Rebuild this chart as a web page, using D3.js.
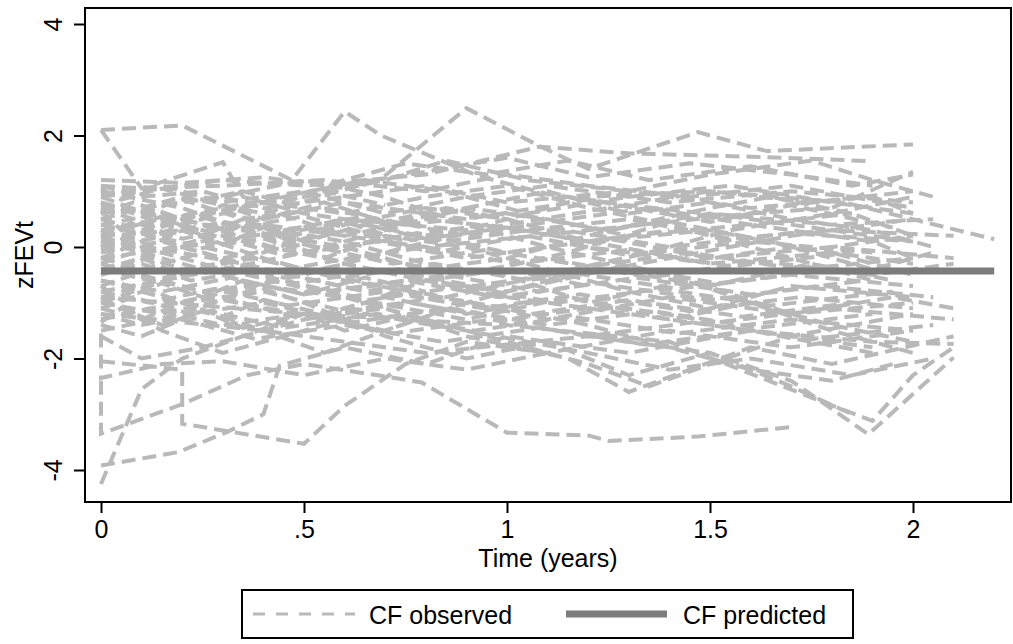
<!DOCTYPE html>
<html>
<head>
<meta charset="utf-8">
<script src="https://cdn.jsdelivr.net/npm/d3@7"></script>
<style>
  body { margin: 0; background: #fff; }
  text { font-family: "Liberation Sans", Arial, sans-serif; fill: #000; }
</style>
</head>
<body>
<svg id="chart" width="1013" height="644"></svg>
<script>
// observed zFEV trajectories, one array of [time, z] per subject
var observedSeries = [
  [[0,2.1],[0.2,2.18],[0.47,1.2],[0.6,2.43],[0.69,2.0],[0.93,1.27],[1.1,0.95],[1.3,0.75],[1.55,0.55],[1.8,0.3],[2.0,0.1]],
  [[0,2.1],[0.1,1.05],[0.3,1.52],[0.35,0.9],[0.5,0.6],[0.7,0.4],[0.9,0.7],[1.1,0.5],[1.3,0.2],[1.6,0.4],[1.9,0.1],[2.0,-0.2]],
  [[0,0.5],[0.2,0.9],[0.4,0.6],[0.69,1.22],[0.9,2.49],[1.08,1.81],[1.2,1.4],[1.47,2.06],[1.64,1.72],[2.0,1.84]],
  [[0,0.9],[0.3,1.2],[0.5,1.1],[0.8,1.3],[1.08,1.8],[1.3,1.68],[1.6,1.62],[1.9,1.54]],
  [[0,-0.2],[0.3,0.1],[0.6,0.5],[0.9,0.3],[1.2,0.9],[1.5,1.0],[1.83,0.8],[2.2,0.14]],
  [[0,0.2],[0.4,0.4],[0.8,0.0],[1.2,0.3],[1.6,0.6],[1.8,0.7],[2.0,1.35]],
  [[0,-4.25],[0.1,-2.55],[0.2,-2.0],[0.35,-1.6],[0.5,-1.2],[0.7,-1.5],[0.9,-1.0],[1.1,-1.3],[1.4,-0.9],[1.7,-1.2],[2.0,-1.0]],
  [[0,-3.92],[0.19,-3.68],[0.31,-3.32],[0.4,-3.0],[0.44,-2.13],[0.6,-1.8],[0.8,-2.1],[1.0,-1.6],[1.3,-1.9],[1.6,-1.5],[1.9,-1.7],[2.1,-1.74]],
  [[0,-2.4],[0,-3.35],[0.2,-2.82],[0.36,-2.3],[0.5,-2.1],[0.69,-2.31],[0.79,-2.43],[1.0,-3.33],[1.2,-3.38],[1.25,-3.48],[1.47,-3.4],[1.7,-3.23]],
  [[0,-2.05],[0.2,-2.2],[0.2,-3.17],[0.5,-3.53],[0.6,-2.85],[0.75,-2.1],[0.9,-1.7],[1.1,-1.9],[1.4,-1.5],[1.7,-1.8],[2.0,-1.5]],
  [[0,-1.2],[0.4,-1.5],[0.8,-1.9],[1.2,-1.6],[1.5,-1.9],[1.7,-2.4],[1.89,-3.36],[2.1,-1.98]],
  [[0,-0.9],[0.5,-1.2],[1.0,-1.4],[1.4,-1.7],[1.75,-2.7],[1.9,-3.12],[2.0,-2.3],[2.1,-1.8]],
  [[0,1.1],[0.1,0.9],[0.25,1.0],[0.4,0.7],[0.6,0.9],[0.8,1.1],[1.0,0.8],[1.3,1.0],[1.6,0.7],[1.9,0.9],[2.0,0.6]],
  [[0,0.95],[0.15,1.1],[0.3,0.8],[0.5,1.0],[0.7,0.6],[0.9,0.9],[1.1,1.1],[1.4,0.8],[1.7,1.0],[2.0,0.8]],
  [[0,0.8],[0.1,0.6],[0.2,0.85],[0.35,0.5],[0.55,0.7],[0.75,0.4],[1.0,0.6],[1.25,0.3],[1.5,0.6],[1.8,0.4],[2.05,0.5]],
  [[0,0.7],[0.12,0.4],[0.3,0.65],[0.45,0.3],[0.65,0.55],[0.9,0.2],[1.1,0.45],[1.35,0.7],[1.6,0.4],[1.85,0.6]],
  [[0,0.6],[0.08,0.8],[0.2,0.5],[0.38,0.75],[0.6,0.2],[0.8,0.5],[1.05,0.3],[1.3,0.5],[1.55,0.15],[1.8,0.3],[2.1,0.2]],
  [[0,0.5],[0.1,0.3],[0.22,0.6],[0.4,0.2],[0.62,0.45],[0.85,0.1],[1.1,0.35],[1.4,0.0],[1.7,0.25],[2.0,0.1]],
  [[0,0.4],[0.15,0.6],[0.3,0.3],[0.5,0.55],[0.7,0.15],[0.95,0.4],[1.2,0.1],[1.5,0.3],[1.75,-0.05],[2.0,0.2]],
  [[0,0.3],[0.1,0.1],[0.25,0.4],[0.42,0.0],[0.6,0.3],[0.82,-0.1],[1.05,0.2],[1.3,-0.15],[1.6,0.1],[1.9,-0.1]],
  [[0,0.2],[0.08,0.45],[0.2,0.15],[0.35,0.35],[0.55,-0.05],[0.78,0.25],[1.0,-0.1],[1.25,0.15],[1.5,-0.2],[1.8,0.0],[2.1,-0.2]],
  [[0,0.1],[0.12,-0.1],[0.28,0.2],[0.45,-0.15],[0.68,0.1],[0.9,-0.2],[1.15,0.05],[1.45,-0.25],[1.7,0.0],[2.0,-0.3]],
  [[0,0.0],[0.1,0.25],[0.22,-0.05],[0.4,0.15],[0.58,-0.25],[0.8,0.0],[1.02,-0.3],[1.3,-0.05],[1.55,-0.35],[1.85,-0.1]],
  [[0,-0.1],[0.15,0.1],[0.3,-0.2],[0.5,0.05],[0.72,-0.3],[0.95,-0.05],[1.2,-0.35],[1.45,-0.1],[1.72,-0.4],[2.0,-0.2]],
  [[0,-0.2],[0.1,-0.4],[0.25,-0.1],[0.42,-0.45],[0.65,-0.15],[0.88,-0.5],[1.1,-0.2],[1.35,-0.55],[1.62,-0.25],[1.9,-0.5],[2.1,-0.3]],
  [[0,-0.3],[0.08,-0.1],[0.2,-0.4],[0.38,-0.2],[0.6,-0.55],[0.82,-0.3],[1.05,-0.6],[1.28,-0.35],[1.52,-0.65],[1.8,-0.4]],
  [[0,-0.4],[0.12,-0.6],[0.3,-0.35],[0.48,-0.65],[0.7,-0.4],[0.92,-0.7],[1.15,-0.45],[1.42,-0.75],[1.7,-0.5],[2.0,-0.7]],
  [[0,-0.5],[0.1,-0.3],[0.22,-0.6],[0.4,-0.4],[0.62,-0.75],[0.85,-0.5],[1.08,-0.8],[1.32,-0.55],[1.6,-0.85],[1.88,-0.6]],
  [[0,-0.6],[0.15,-0.8],[0.32,-0.55],[0.5,-0.85],[0.75,-0.6],[0.98,-0.9],[1.22,-0.65],[1.5,-0.95],[1.78,-0.7],[2.05,-0.9]],
  [[0,-0.7],[0.08,-0.5],[0.25,-0.8],[0.45,-0.6],[0.66,-0.95],[0.9,-0.7],[1.12,-1.0],[1.38,-0.75],[1.65,-1.05],[1.95,-0.8]],
  [[0,-0.8],[0.12,-1.0],[0.28,-0.75],[0.46,-1.05],[0.7,-0.8],[0.94,-1.1],[1.18,-0.85],[1.45,-1.15],[1.72,-0.9],[2.0,-1.1]],
  [[0,-0.9],[0.1,-0.7],[0.2,-1.0],[0.4,-0.8],[0.6,-1.15],[0.84,-0.9],[1.06,-1.2],[1.3,-0.95],[1.58,-1.25],[1.85,-1.0]],
  [[0,-1.0],[0.15,-1.2],[0.3,-0.95],[0.52,-1.25],[0.76,-1.0],[1.0,-1.3],[1.25,-1.05],[1.52,-1.35],[1.8,-1.1],[2.1,-1.3]],
  [[0,-1.1],[0.08,-0.9],[0.22,-1.2],[0.4,-1.0],[0.62,-1.35],[0.86,-1.1],[1.1,-1.4],[1.36,-1.15],[1.62,-1.45],[1.9,-1.2]],
  [[0,-1.2],[0.1,-1.4],[0.27,-1.15],[0.45,-1.45],[0.68,-1.2],[0.92,-1.5],[1.16,-1.25],[1.42,-1.55],[1.7,-1.3],[2.0,-1.5]],
  [[0,-1.3],[0.12,-1.1],[0.3,-1.4],[0.5,-1.2],[0.72,-1.55],[0.96,-1.3],[1.2,-1.6],[1.46,-1.35],[1.75,-1.65],[2.05,-1.4]],
  [[0,-1.4],[0.1,-1.6],[0.2,-1.3],[0.38,-1.65],[0.6,-1.4],[0.84,-1.7],[1.08,-1.45],[1.34,-1.75],[1.6,-1.5],[1.9,-1.8]],
  [[0,1.0],[0.2,0.7],[0.4,0.2],[0.6,-0.3],[0.8,-0.6],[1.0,-0.9],[1.3,-1.2],[1.6,-1.5],[1.9,-1.9]],
  [[0,-1.3],[0.25,-0.9],[0.5,-0.5],[0.75,0.0],[1.0,0.4],[1.25,0.7],[1.5,1.0],[1.75,0.8],[2.0,1.0]],
  [[0,0.6],[0.3,0.9],[0.5,1.2],[0.7,0.9],[0.9,0.4],[1.1,0.0],[1.4,-0.5],[1.6,-1.0],[1.8,-1.4],[2.0,-1.7]],
  [[0,-0.6],[0.2,-1.0],[0.4,-1.5],[0.55,-1.9],[0.7,-1.5],[0.9,-1.0],[1.1,-0.6],[1.4,-0.2],[1.7,0.2],[2.0,0.5]],
  [[0,0.1],[0.3,-0.5],[0.5,-1.0],[0.7,-1.6],[0.9,-2.0],[1.1,-1.7],[1.3,-2.3],[1.5,-1.9],[1.7,-2.5],[1.85,-3.0]],
  [[0,-0.9],[0.15,-1.5],[0.3,-1.9],[0.45,-1.6],[0.65,-1.2],[0.9,-1.5],[1.2,-1.9],[1.4,-2.2],[1.6,-2.0],[1.85,-2.3],[2.05,-2.0]],
  [[0,0.8],[0.2,0.3],[0.4,-0.2],[0.6,-0.6],[0.85,-0.9],[1.1,-0.5],[1.35,-0.1],[1.55,0.3],[1.8,0.6],[2.0,0.9]],
  [[0,-0.2],[0.2,0.4],[0.45,0.9],[0.65,1.2],[0.85,1.0],[1.05,0.6],[1.3,0.9],[1.55,1.1],[1.8,0.8],[2.0,0.6]],
  [[0,0.4],[0.25,0.0],[0.5,-0.4],[0.75,-0.8],[1.0,-1.1],[1.2,-1.4],[1.45,-1.9],[1.6,-2.2],[1.8,-2.4],[1.95,-2.1]],
  [[0,-1.6],[0.1,-2.0],[0.25,-1.8],[0.45,-1.4],[0.65,-1.0],[0.8,-0.6],[1.0,-0.8],[1.25,-0.4],[1.5,-0.7],[1.75,-0.3],[1.95,-0.6]],
  [[0,1.1],[0.1,1.05],[0.3,1.1],[0.55,1.2],[0.8,1.0],[1.0,1.3],[1.2,1.1],[1.45,0.9],[1.7,1.1],[2.0,0.7]],
  [[0,-0.3],[0.3,-0.9],[0.5,-1.3],[0.7,-1.1],[0.9,-1.6],[1.15,-2.0],[1.3,-2.6],[1.45,-2.2],[1.6,-1.8],[1.8,-2.1],[2.1,-1.6]],
  [[0,0.3],[0.1,0.0],[0.3,-0.4],[0.5,-0.1],[0.7,0.3],[0.9,0.7],[1.1,1.0],[1.3,0.6],[1.5,0.8],[1.7,0.5],[1.9,0.3],[2.05,0.0]],
  [[0,-1.0],[0.2,-0.5],[0.4,-0.1],[0.6,0.4],[0.8,0.7],[1.0,0.5],[1.2,0.1],[1.5,-0.3],[1.8,-0.1],[2.0,-0.5]],
  [[0,0.9],[0.15,0.5],[0.35,0.1],[0.55,-0.2],[0.7,0.2],[0.9,0.0],[1.1,-0.4],[1.3,-0.8],[1.5,-1.1],[1.7,-0.7],[2.0,-0.9]],
  [[0,-1.5],[0.2,-1.2],[0.4,-0.7],[0.6,-0.9],[0.8,-1.3],[1.0,-1.7],[1.2,-2.1],[1.35,-2.5],[1.5,-2.1],[1.7,-1.6],[2.0,-1.2]],
  [[0,0.0],[0.2,0.5],[0.4,0.8],[0.6,0.6],[0.8,0.9],[1.0,1.1],[1.2,0.7],[1.4,0.4],[1.6,0.0],[1.75,-0.3],[1.9,-0.6]],
  [[0,-0.5],[0.15,-0.1],[0.35,0.3],[0.6,0.0],[0.8,-0.4],[1.0,-0.2],[1.25,0.3],[1.5,0.7],[1.65,0.9],[1.85,0.6],[2.0,0.2]],
  [[0,0.5],[0.1,0.7],[0.2,0.4],[0.3,0.75],[0.4,0.5],[0.55,0.8],[0.7,0.45],[0.85,0.7],[1.0,0.5]],
  [[0,-0.4],[0.1,-0.2],[0.2,-0.5],[0.3,-0.25],[0.45,-0.55],[0.6,-0.3],[0.8,-0.6],[1.0,-0.4],[1.2,-0.7]],
  [[0,0.2],[0.1,-0.05],[0.2,0.3],[0.3,0.05],[0.4,0.35],[0.5,0.1],[0.65,0.4],[0.8,0.15],[1.0,0.35],[1.2,0.1],[1.4,0.3]],
  [[0,-1.1],[0.1,-1.3],[0.2,-1.0],[0.3,-1.25],[0.4,-0.95],[0.55,-1.2],[0.7,-0.9],[0.9,-1.2],[1.1,-0.95]],
  [[0,0.65],[0.05,0.3],[0.15,0.55],[0.25,0.2],[0.35,0.5],[0.45,0.15],[0.6,0.45],[0.75,0.1],[0.9,0.35]],
  [[0,-0.7],[0.05,-0.95],[0.15,-0.65],[0.25,-0.9],[0.35,-0.6],[0.5,-0.85],[0.65,-0.55],[0.8,-0.8]],
  [[0,1.05],[0.05,0.85],[0.15,1.05],[0.25,0.85],[0.35,1.0],[0.45,0.8],[0.55,1.0],[0.7,0.75]],
  [[0,-1.35],[0.05,-1.1],[0.15,-1.4],[0.25,-1.15],[0.35,-1.45],[0.5,-1.2],[0.6,-1.5],[0.75,-1.25]],
  [[0,-1.55],[0,-2.35],[0.15,-2.1],[0.3,-2.05],[0.5,-2.3],[0.7,-2.0],[0.9,-2.2],[1.1,-1.9]],
  [[0,1.2],[0.2,1.15],[0.4,1.25],[0.55,1.1],[0.75,1.5],[0.95,1.3],[1.15,1.55],[1.35,1.2],[1.6,1.45],[1.85,1.1],[2.0,1.3]],
  [[0,0.3],[0.3,0.7],[0.55,1.05],[0.8,1.35],[1.0,1.6],[1.2,1.25],[1.45,1.5],[1.7,1.3],[1.9,1.1]],
  [[0,0.0],[0.25,0.6],[0.5,0.9],[0.7,1.2],[0.85,1.55],[1.05,1.2],[1.3,1.0],[1.5,1.3],[1.75,1.55],[1.9,1.2],[2.05,0.9]],
  [[0,-0.8],[0.3,-0.4],[0.6,-0.9],[0.9,-1.3],[1.15,-0.9],[1.4,-1.3],[1.6,-1.0],[1.8,-1.5],[2.0,-1.9]],
  [[0,0.15],[0.35,-0.3],[0.65,-0.8],[0.95,-0.4],[1.2,-1.0],[1.45,-0.6],[1.7,-1.2],[1.95,-0.9],[2.1,-1.1]],
  [[0,-0.05],[0.3,0.45],[0.6,0.1],[0.9,-0.5],[1.15,-0.1],[1.4,0.45],[1.65,0.1],[1.9,-0.4],[2.05,-0.1]],
  [[0,0.75],[0.3,0.35],[0.6,0.8],[0.9,0.5],[1.2,0.85],[1.5,0.45],[1.7,0.75],[1.95,0.35]]
];

// fitted mean from the model
var predictedTime = [0, 0.5, 1, 1.5, 2, 2.2];
var predictedZ = [-0.43, -0.43, -0.43, -0.43, -0.43, -0.43];

var xTicks = [0, 0.5, 1, 1.5, 2];
var xTickLabels = ['0', '.5', '1', '1.5', '2'];
var yTicks = [-4, -2, 0, 2, 4];
var yTickLabels = ['-4', '-2', '0', '2', '4'];
var legendLabels = ['CF observed', 'CF predicted'];

var obsColor = '#b9b9b9';
var predColor = '#7c7c7c';

var svg = d3.select('#chart');
var frame = { left: 85, right: 1011, top: 8, bottom: 502 };

var x = d3.scaleLinear().domain([0, 2]).range([101, 913]);
var y = d3.scaleLinear().domain([-4, 4]).range([470, 24]);

var line = d3.line()
  .x(function (d) { return x(d[0]); })
  .y(function (d) { return y(d[1]); });

// observed lines
svg.append('g').selectAll('path.obs').data(observedSeries).enter().append('path')
  .attr('class', 'obs')
  .attr('d', line)
  .attr('fill', 'none')
  .attr('stroke', obsColor)
  .attr('stroke-width', 4)
  .attr('stroke-dasharray', '14,7');

// predicted
var predData = predictedTime.map(function (t, i) { return [t, predictedZ[i]]; });
svg.append('path')
  .datum(predData)
  .attr('d', line)
  .attr('fill', 'none')
  .attr('stroke', predColor)
  .attr('stroke-width', 7);

// plot frame
svg.append('rect')
  .attr('x', frame.left).attr('y', frame.top)
  .attr('width', frame.right - frame.left)
  .attr('height', frame.bottom - frame.top)
  .attr('fill', 'none')
  .attr('stroke', '#000')
  .attr('stroke-width', 2);

// x axis
var xAxis = svg.append('g')
  .attr('transform', 'translate(0,' + frame.bottom + ')')
  .call(d3.axisBottom(x).tickValues(xTicks).tickSize(11)
    .tickFormat(function (d, i) { return xTickLabels[i]; }));
xAxis.select('.domain').remove();
xAxis.selectAll('line').attr('stroke', '#000').attr('stroke-width', 2);
xAxis.selectAll('text')
  .attr('y', 36).attr('dy', 0)
  .style('font-size', '25px')
  .style('font-family', '"Liberation Sans", Arial, sans-serif');

// y axis
var yAxis = svg.append('g')
  .attr('transform', 'translate(' + frame.left + ',0)')
  .call(d3.axisLeft(y).tickValues(yTicks).tickSize(11)
    .tickFormat(function (d, i) { return yTickLabels[i]; }));
yAxis.select('.domain').remove();
yAxis.selectAll('line').attr('stroke', '#000').attr('stroke-width', 2);
yAxis.selectAll('text')
  .attr('x', 0).attr('y', -23).attr('dy', 0)
  .attr('text-anchor', 'middle')
  .attr('transform', 'rotate(-90)')
  .style('font-size', '25px')
  .style('font-family', '"Liberation Sans", Arial, sans-serif');

// axis titles
svg.append('text')
  .attr('x', (frame.left + frame.right) / 2).attr('y', 567)
  .attr('text-anchor', 'middle')
  .style('font-size', '25px')
  .text('Time (years)');

svg.append('text')
  .attr('transform', 'translate(33,' + ((frame.top + frame.bottom) / 2) + ') rotate(-90)')
  .attr('text-anchor', 'middle')
  .style('font-size', '25px')
  .text('zFEVt');

// legend
var legend = svg.append('g');
legend.append('rect')
  .attr('x', 242).attr('y', 590)
  .attr('width', 611).attr('height', 48)
  .attr('fill', '#fff')
  .attr('stroke', '#000')
  .attr('stroke-width', 2);
legend.append('line')
  .attr('x1', 253).attr('x2', 355).attr('y1', 614).attr('y2', 614)
  .attr('stroke', obsColor).attr('stroke-width', 3)
  .attr('stroke-dasharray', '12,11');
legend.append('text')
  .attr('x', 369).attr('y', 624)
  .style('font-size', '25px')
  .text(legendLabels[0]);
legend.append('line')
  .attr('x1', 566).attr('x2', 667).attr('y1', 614).attr('y2', 614)
  .attr('stroke', predColor).attr('stroke-width', 7);
legend.append('text')
  .attr('x', 683).attr('y', 624)
  .style('font-size', '25px')
  .text(legendLabels[1]);
</script>
</body>
</html>
